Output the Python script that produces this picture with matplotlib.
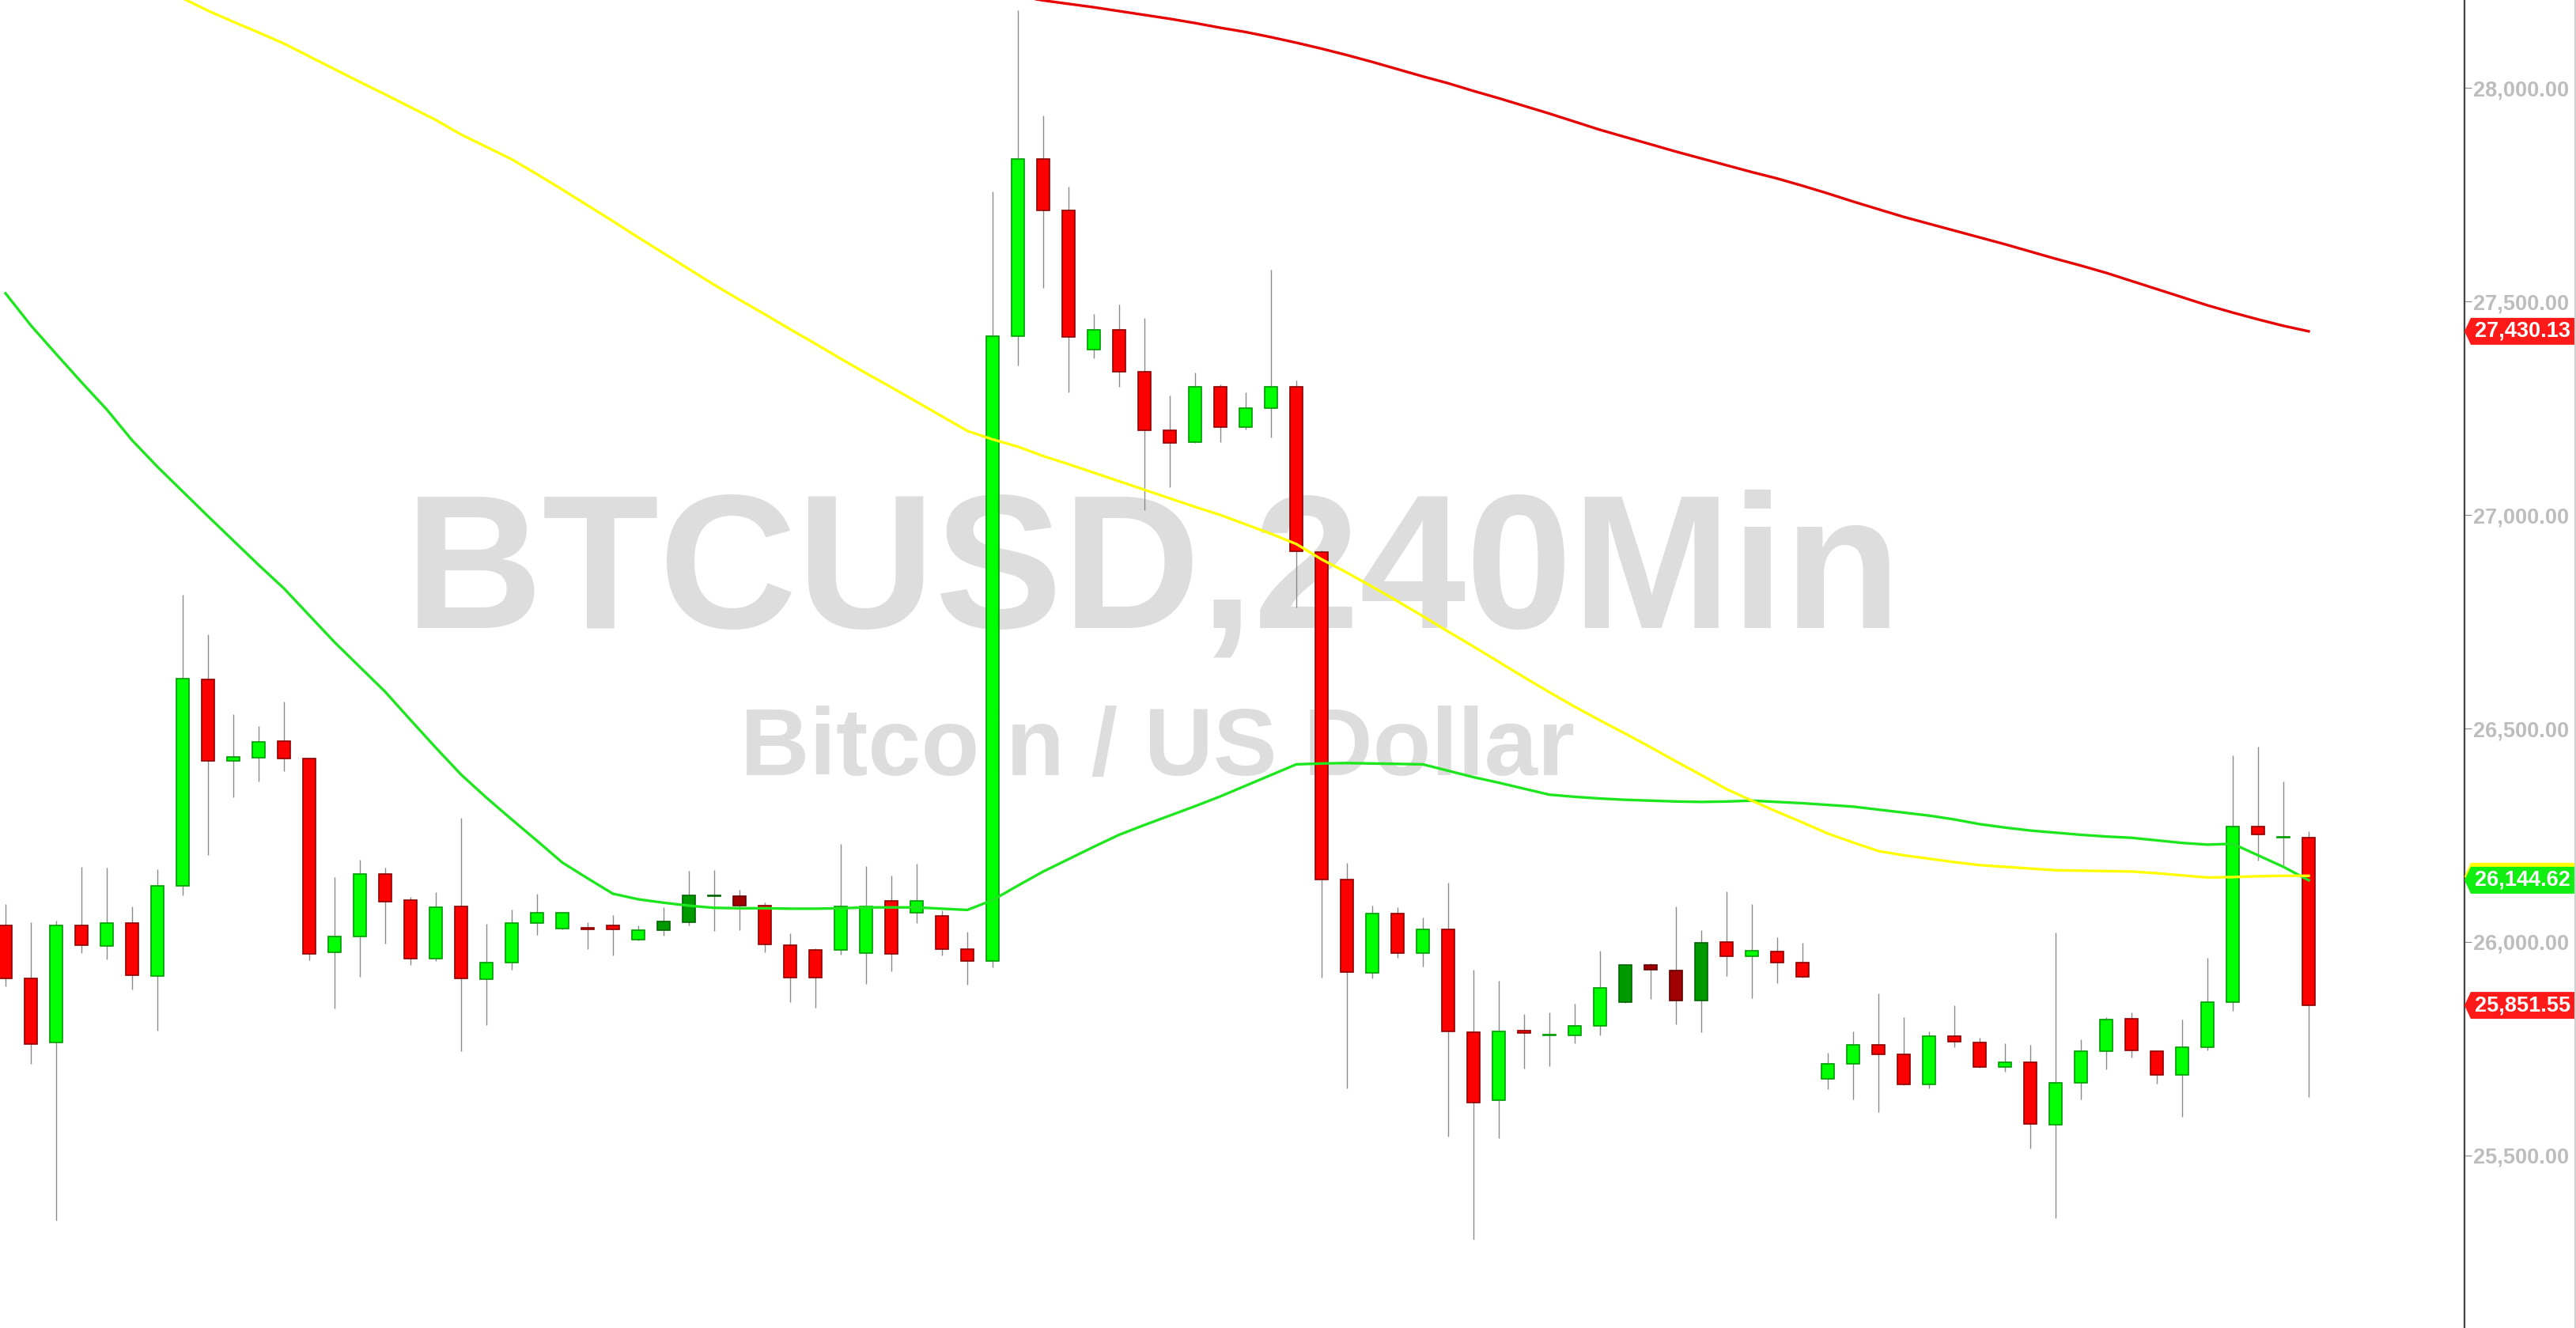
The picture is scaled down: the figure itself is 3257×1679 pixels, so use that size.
import matplotlib
matplotlib.use('Agg')
import matplotlib.pyplot as plt
from matplotlib.patches import Polygon
from matplotlib.lines import Line2D
import matplotlib.transforms as mtransforms

plt.rcParams['font.family'] = ['Liberation Sans', 'DejaVu Sans']

# BTCUSD 240 min candles
opens = [26038, 25915, 25764, 26038, 25990, 26045, 25920, 26132, 26614, 26424,
         26431, 26470, 26430, 25975, 26012, 26159, 26099, 25961, 26083, 25912,
         25951, 26045, 26069, 26033, 26029, 26006, 26027, 26047, 26110, 26107,
         26086, 25993, 25916, 25981, 26084, 25972, 26097, 26061, 25983, 25956,
         27419, 27834, 27713, 27387, 27433, 27336, 27199, 27171, 27301, 27205,
         27251, 27300, 26914, 26146, 25928, 26066, 25974, 26030, 25788, 25629,
         25793, 25782, 25782, 25804, 25859, 25946, 25933, 25863, 25999, 25966,
         25977, 25951, 25679, 25714, 25760, 25737, 25666, 25779, 25764, 25707,
         25718, 25572, 25670, 25744, 25820, 25745, 25689, 25753, 25859, 26271,
         26244, 26245]
highs = [26089, 26046, 26050, 26176, 26174, 26083, 26170, 26814, 26721, 26533,
         26506, 26563, 26432, 26152, 26193, 26174, 26105, 26116, 26291, 26043,
         26076, 26113, 26071, 26046, 26063, 26039, 26082, 26167, 26168, 26122,
         26093, 26020, 25985, 26230, 26178, 26155, 26183, 26074, 26024, 27757,
         28182, 27936, 27769, 27470, 27492, 27461, 27280, 27333, 27306, 27287,
         27575, 27315, 26916, 26185, 26085, 26081, 26058, 26139, 25935, 25909,
         25831, 25835, 25856, 25980, 25946, 25949, 26083, 26028, 26119, 26089,
         26011, 25998, 25741, 25791, 25879, 25824, 25790, 25851, 25776, 25763,
         25760, 26022, 25772, 25824, 25835, 25747, 25819, 25962, 26437, 26457,
         26376, 26259]
lows = [25896, 25715, 25347, 25974, 25960, 25889, 25793, 26110, 26204, 26339,
        26376, 26400, 25957, 25845, 25918, 25997, 25947, 25956, 25745, 25806,
        25936, 26017, 26029, 25984, 25969, 26004, 26014, 26038, 26025, 26027,
        25975, 25859, 25846, 25971, 25901, 25931, 26044, 25969, 25899, 25941,
        27351, 27531, 27287, 27366, 27301, 27012, 27065, 27169, 27171, 27201,
        27182, 26784, 25917, 25658, 25915, 25963, 25943, 25544, 25303, 25541,
        25703, 25710, 25763, 25781, 25857, 25866, 25808, 25788, 25920, 25868,
        25904, 25917, 25655, 25632, 25601, 25665, 25658, 25754, 25706, 25697,
        25517, 25353, 25631, 25702, 25729, 25669, 25591, 25747, 25839, 26190,
        26180, 25636]
closes = [25915, 25761, 26038, 25993, 26045, 25923, 26132, 26616, 26424, 26434,
          26468, 26429, 25973, 26012, 26159, 26094, 25961, 26082, 25914, 25951,
          26045, 26069, 26032, 26029, 26038, 26027, 26048, 26109, 26108, 26086,
          25995, 25916, 25981, 26084, 25974, 26097, 26068, 25983, 25956, 27419,
          27834, 27714, 27416, 27433, 27336, 27199, 27169, 27301, 27205, 27251,
          27301, 26915, 26146, 25929, 26066, 25974, 26030, 25791, 25623, 25791,
          25786, 25784, 25804, 25892, 25946, 25935, 25863, 25998, 25966, 25979,
          25951, 25919, 25714, 25760, 25737, 25666, 25779, 25767, 25707, 25718,
          25573, 25670, 25744, 25818, 25746, 25689, 25753, 25859, 26271, 26251,
          26246, 25851.55]
# g/r = up/down, G/R = dark up/down
kinds = list('rrgrgrggrg'
             'grrggrrgrg'
             'gggrrgGGGR'
             'rrrggrgrrg'
             'grrgrrrgrg'
             'grrrgrgrrg'
             'rgggGRRGrg'
             'rrggrrgrrg'
             'rggg' 'rrgggr'
             'gr')

# moving averages (green from bar 0, yellow from bar 7, red from bar 40)
ma_fast = [27519, 27444, 27377, 27311, 27247, 27175, 27113, 27055, 26997, 26940,
           26883, 26828, 26765, 26702, 26644, 26586, 26520, 26455, 26392, 26338,
           26287, 26237, 26186, 26149, 26113, 26100, 26092, 26085, 26080, 26079,
           26079, 26078, 26078, 26079, 26081, 26081, 26081, 26078, 26075, 26098,
           26132, 26165, 26194, 26223, 26251, 26274, 26296, 26318, 26341, 26366,
           26391, 26416, 26418, 26419, 26418, 26417, 26416, 26401, 26386, 26373,
           26359, 26345, 26340, 26336, 26333, 26331, 26329, 26328, 26329, 26331,
           26328, 26325, 26321, 26317, 26310, 26303, 26296, 26287, 26276, 26268,
           26261, 26256, 26251, 26247, 26244, 26238, 26232, 26228, 26230, 26203,
           26176, 26144.62]
mid_start = 7
ma_mid = [28210, 28181, 28155, 28130, 28104, 28074, 28044, 28014, 27985, 27955,
          27925, 27891, 27862, 27833, 27798, 27762, 27725, 27688, 27650, 27613,
          27576, 27539, 27504, 27470, 27435, 27401, 27366, 27332, 27299, 27265,
          27231, 27197, 27177, 27160, 27138, 27119, 27099, 27079, 27059, 27039,
          27019, 27000, 26978, 26956, 26932, 26896, 26865, 26832, 26798, 26763,
          26727, 26692, 26656, 26620, 26585, 26551, 26519, 26488, 26456, 26423,
          26391, 26358, 26331, 26305, 26280, 26254, 26233, 26213, 26203, 26195,
          26187, 26180, 26176, 26172, 26168, 26167, 26166, 26165, 26161, 26156,
          26151, 26152, 26154, 26155, 26155]
slow_start = 40
ma_slow = [28215, 28205, 28197, 28189, 28180, 28171, 28162, 28152, 28141, 28131,
           28119, 28106, 28092, 28077, 28061, 28044, 28027, 28011, 27993, 27976,
           27958, 27940, 27921, 27902, 27885, 27868, 27851, 27835, 27819, 27803,
           27788, 27771, 27753, 27734, 27716, 27698, 27682, 27666, 27650, 27634,
           27617, 27600, 27584, 27567, 27548, 27529, 27510, 27491, 27474, 27458,
           27443, 27430.13]

yticks = [25500, 26000, 26500, 27000, 27500, 28000]

W, H = 3257, 1679
fig = plt.figure(figsize=(W / 100, H / 100), dpi=100)
ax = fig.add_axes([0, 0, 3116 / W, 1])
ymin, ymax = 25096, 28206
ax.set_ylim(ymin, ymax)
ax.set_xlim(-7 / 32, 3109 / 32)

face = {'g': '#00ff00', 'r': '#ff0000', 'G': '#009900', 'R': '#a00000'}
edge = {'g': '#009a00', 'r': '#8c0000', 'G': '#006400', 'R': '#600000'}

n = len(opens)
xs = list(range(n))
ax.vlines(xs, lows, highs, color='#8a8a8a', lw=1.0, zorder=2)
for i in xs:
    o, c = opens[i], closes[i]
    h = max(abs(c - o), 1.5)
    ax.bar(i, h, bottom=min(o, c), width=0.5, color=face[kinds[i]],
           edgecolor=edge[kinds[i]], lw=1.2, zorder=3)

ax.plot(xs, ma_fast, color='#1ee61e', lw=2.4, zorder=4)
ax.plot(range(mid_start, mid_start + len(ma_mid)), ma_mid, color='#ffff00', lw=2.4, zorder=4)
ax.plot(range(slow_start, slow_start + len(ma_slow)), ma_slow, color='#e60000', lw=2.4, zorder=4)

# watermark
ax.text(1458 / W, 1 - 794 / H, 'BTCUSD,240Min', transform=fig.transFigure,
        ha='center', va='baseline', fontsize=174, fontweight='bold',
        color='#dddddd', zorder=0)
ax.text(1463 / W, 1 - 980 / H, 'Bitcoin / US Dollar', transform=fig.transFigure,
        ha='center', va='baseline', fontsize=87, fontweight='bold',
        color='#dddddd', zorder=0)

for s in ['left', 'top', 'bottom']:
    ax.spines[s].set_visible(False)
ax.spines['right'].set_color('#444444')
ax.spines['right'].set_linewidth(1.6)
ax.set_xticks([])
ax.yaxis.tick_right()
ax.set_yticks(yticks)
ax.set_yticklabels(['{:,.2f}'.format(v) for v in yticks])
ax.tick_params(axis='y', direction='out', length=6.5, width=0.8, color='#888888',
               pad=1.5, labelsize=19.5, labelcolor='#bdbdbd')
for lab in ax.get_yticklabels():
    lab.set_fontweight('bold')

# price tags on the axis
tr = mtransforms.blended_transform_factory(fig.transFigure, ax.transData)
px = (ymax - ymin) / H
tags = [(ma_slow[-1], '#ff1a1a', True),
        (ma_mid[-1] - 1, '#ffff00', False),
        (ma_fast[-1], '#11ee11', True),
        (closes[-1], '#ff1a1a', True)]
for val, col, show in tags:
    hh = 17 * px
    poly = Polygon([(3116 / W, val), (3124 / W, val + hh), (1.0, val + hh),
                    (1.0, val - hh), (3124 / W, val - hh)], closed=True,
                   transform=tr, facecolor=col, edgecolor='none', clip_on=False, zorder=5)
    ax.add_patch(poly)
    if show:
        ax.text(3129 / W, val, '{:,.2f}'.format(val), transform=tr, ha='left',
                va='center', color='white', fontsize=19.5, fontweight='bold',
                clip_on=False, zorder=6)

fig.add_artist(Line2D([1 - 1.5 / W, 1 - 1.5 / W], [0, 1], color='#d0d0d0', lw=1.5))

fig.savefig('out.png', dpi=100, facecolor='white')
